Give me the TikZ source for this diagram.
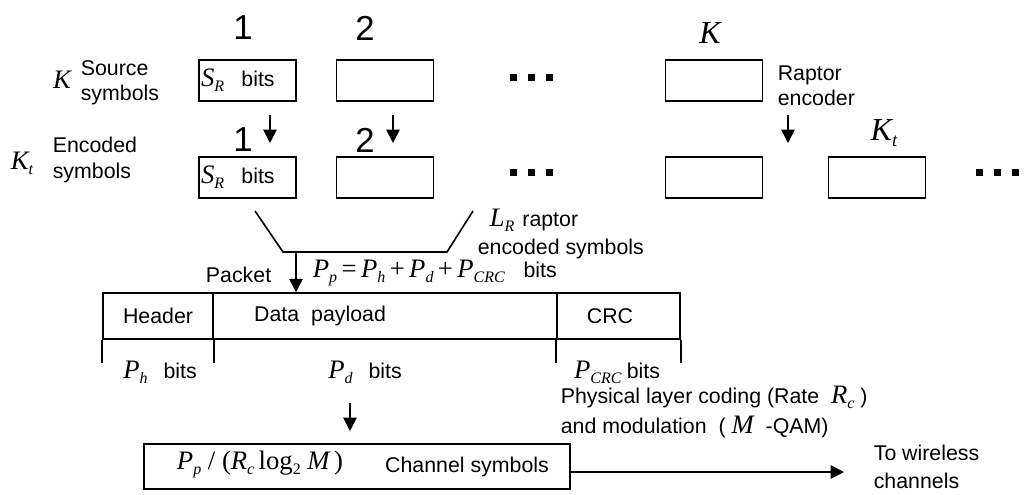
\documentclass[tikz,border=0pt]{standalone}
\usepackage{fontspec}
\setmainfont{Liberation Sans}
\newfontfamily\tms{Liberation Serif}
\usetikzlibrary{arrows.meta}

% italic variables with optional subscripts, set in a Times-like face
\newcommand\mathsz{\fontsize{20}{22}\selectfont}
\newcommand\Vs[1]{{\mathsz\tms\itshape #1}}
\newcommand\V[2]{{\mathsz\tms\itshape #1}\raisebox{-0.45ex}{\fontsize{12}{12}\selectfont\tms\itshape #2}}
\newcommand\Rm[1]{{\mathsz\tms #1}}

\begin{document}
\begin{tikzpicture}[x=0.75pt,y=-0.75pt,line width=1.2pt,
  txt/.style={font=\fontsize{16}{19}\selectfont,inner sep=0pt},
  bignum/.style={font=\fontsize{26}{28}\selectfont,inner sep=0pt},
  bigvar/.style={font=\fontsize{24}{26}\selectfont\tms\itshape,inner sep=0pt},
  symbox/.style={draw,rectangle,minimum width=72.75pt,minimum height=30.75pt,inner sep=0pt},
  cell/.style={draw,rectangle,minimum height=34.5pt,inner sep=0pt},
  arr/.style={-{Triangle[length=10pt,width=10pt]}},
  sq/.style={fill,rectangle,minimum size=5.25pt,inner sep=0pt}]
\useasboundingbox (0,0) rectangle (1024,494);

% ---- source symbols (row 1)
\node[symbox] (s1) at (247.5,80.5) {};
\node[symbox] (s2) at (385,80.5) {};
\node[symbox] (sK) at (714,80.5) {};
\node[txt,anchor=west] (s1t) at (s1.west) {\hspace{1.5pt}\V{S}{R}\hspace{13pt}bits};
\node[bignum] (n1a) at (243,28) {1};
\node[bignum] (n2a) at (365,28) {2};
\node[bigvar] (nKa) at (710,33) {K};
\node[txt] (kleft) at (62,80) {\Vs{K}};
\node[txt,anchor=west,align=left] (srcl) at (80,83) {Source\\symbols};
\node[txt,anchor=west,align=left] (rapl) at (777,86) {Raptor\\encoder};

% ---- encoded symbols (row 2)
\node[symbox] (e1) at (247.5,177.5) {};
\node[symbox] (e2) at (385,177.5) {};
\node[symbox] (eK) at (714,177.5) {};
\node[symbox] (eKt) at (877,177.5) {};
\node[txt,anchor=west] (e1t) at (e1.west) {\hspace{1.5pt}\V{S}{R}\hspace{13pt}bits};
\node[bignum] (n1b) at (243,140) {1};
\node[bignum] (n2b) at (365,140) {2};
\node[bigvar] (nKt) at (884,133) {K\raisebox{-0.45ex}{\fontsize{14}{14}\selectfont t}};
\node[txt] (ktleft) at (22,163) {\V{K}{t}};
\node[txt,anchor=west,align=left] (encl) at (52,160) {Encoded\\symbols};

% encoder arrows
\coordinate (a1s) at (270,115); \coordinate (a1e) at (270,143);
\coordinate (a2s) at (393,115); \coordinate (a2e) at (393,143);
\coordinate (a3s) at (788,115); \coordinate (a3e) at (788,143);
\draw[arr] (a1s) -- (a1e);
\draw[arr] (a2s) -- (a2e);
\draw[arr] (a3s) -- (a3e);

% ellipsis dots
\foreach \x/\n in {513.5/a,531.5/b,549.5/c}{
  \node[sq] (dt\n) at (\x,77.5) {};
  \node[sq] (dm\n) at (\x,172.5) {};
}
\foreach \x/\n in {979/a,997/b,1015/c}{
  \node[sq] (dr\n) at (\x,172.5) {};
}

% ---- funnel collecting L_R encoded symbols
\coordinate (fl) at (255,211);
\coordinate (fbl) at (283,252);
\coordinate (fbr) at (447,252);
\coordinate (fr) at (473,211);
\coordinate (fout) at (296,252);
\draw (fl) -- (fbl) -- (fbr) -- (fr);
\node[txt,anchor=west] (lr) at (489,220) {\V{L}{R}\hspace{6pt}raptor};
\node[txt,anchor=west] (lrenc) at (477,249) {encoded symbols};

% ---- packet
\node[cell,minimum width=82.5pt] (hdr) at (158,316) {};
\node[cell,minimum width=258pt] (dat) at (385,316) {};
\node[cell,minimum width=92.25pt] (crc) at (618.5,316) {};
\node[txt] (hdrt) at (158,316) {Header};
\node[txt] (datt) at (320,316) {Data\hspace{9pt}payload};
\node[txt] (crct) at (610,316) {CRC};
\draw (hdr.south west) -- ++(0,23);
\draw (hdr.south east) -- ++(0,23);
\draw (crc.south west) -- ++(0,23);
\draw (crc.south east) -- ++(0,23);
\draw[arr] (fout) -- (fout |- dat.north);
\node[txt,anchor=east] (pkt) at (272,275) {Packet};
\node[txt,anchor=west] (pform) at (312,273)
  {\V{P}{p}\Rm{\,=\,}\V{P}{h}\Rm{\,+\,}\V{P}{d}\Rm{\,+\,}\V{P}{CRC}\hspace{14pt}bits};
\node[txt] (phb) at (160,372) {\V{P}{h}\hspace{12pt}bits};
\node[txt] (pdb) at (365,372) {\V{P}{d}\hspace{12pt}bits};
\node[txt] (pcb) at (617,372) {\V{P}{CRC}\hspace{4pt}bits};

% ---- physical layer
\node[txt,anchor=west,align=left,font=\fontsize{16}{22}\selectfont] (phy) at (560,412)
  {Physical layer coding (Rate \ \V{R}{c}\ )\\and modulation \ ( \Vs{M}\ \ -QAM)};
\coordinate (a4s) at (350,403); \coordinate (a4e) at (350,431);
\draw[arr] (a4s) -- (a4e);
\node[draw,rectangle,minimum width=319.5pt,minimum height=33.75pt,inner sep=0pt] (chan) at (357,466.5) {};
\node[txt] (chanm) at (260,464)
  {\V{P}{p}\Rm{\ /\ (}\V{R}{c}\Rm{\,log}\raisebox{-0.45ex}{\fontsize{12}{12}\selectfont\tms 2}\Rm{\ }\Vs{M}\Rm{\,)}};
\node[txt] (chant) at (467,467) {Channel symbols};
\coordinate (wire) at (844,472);
\draw[arr] (chan.east |- wire) -- (wire);
\node[txt,anchor=west,align=left,font=\fontsize{16}{21}\selectfont] (wl) at (873,467) {To wireless\\channels};
\end{tikzpicture}
\end{document}
